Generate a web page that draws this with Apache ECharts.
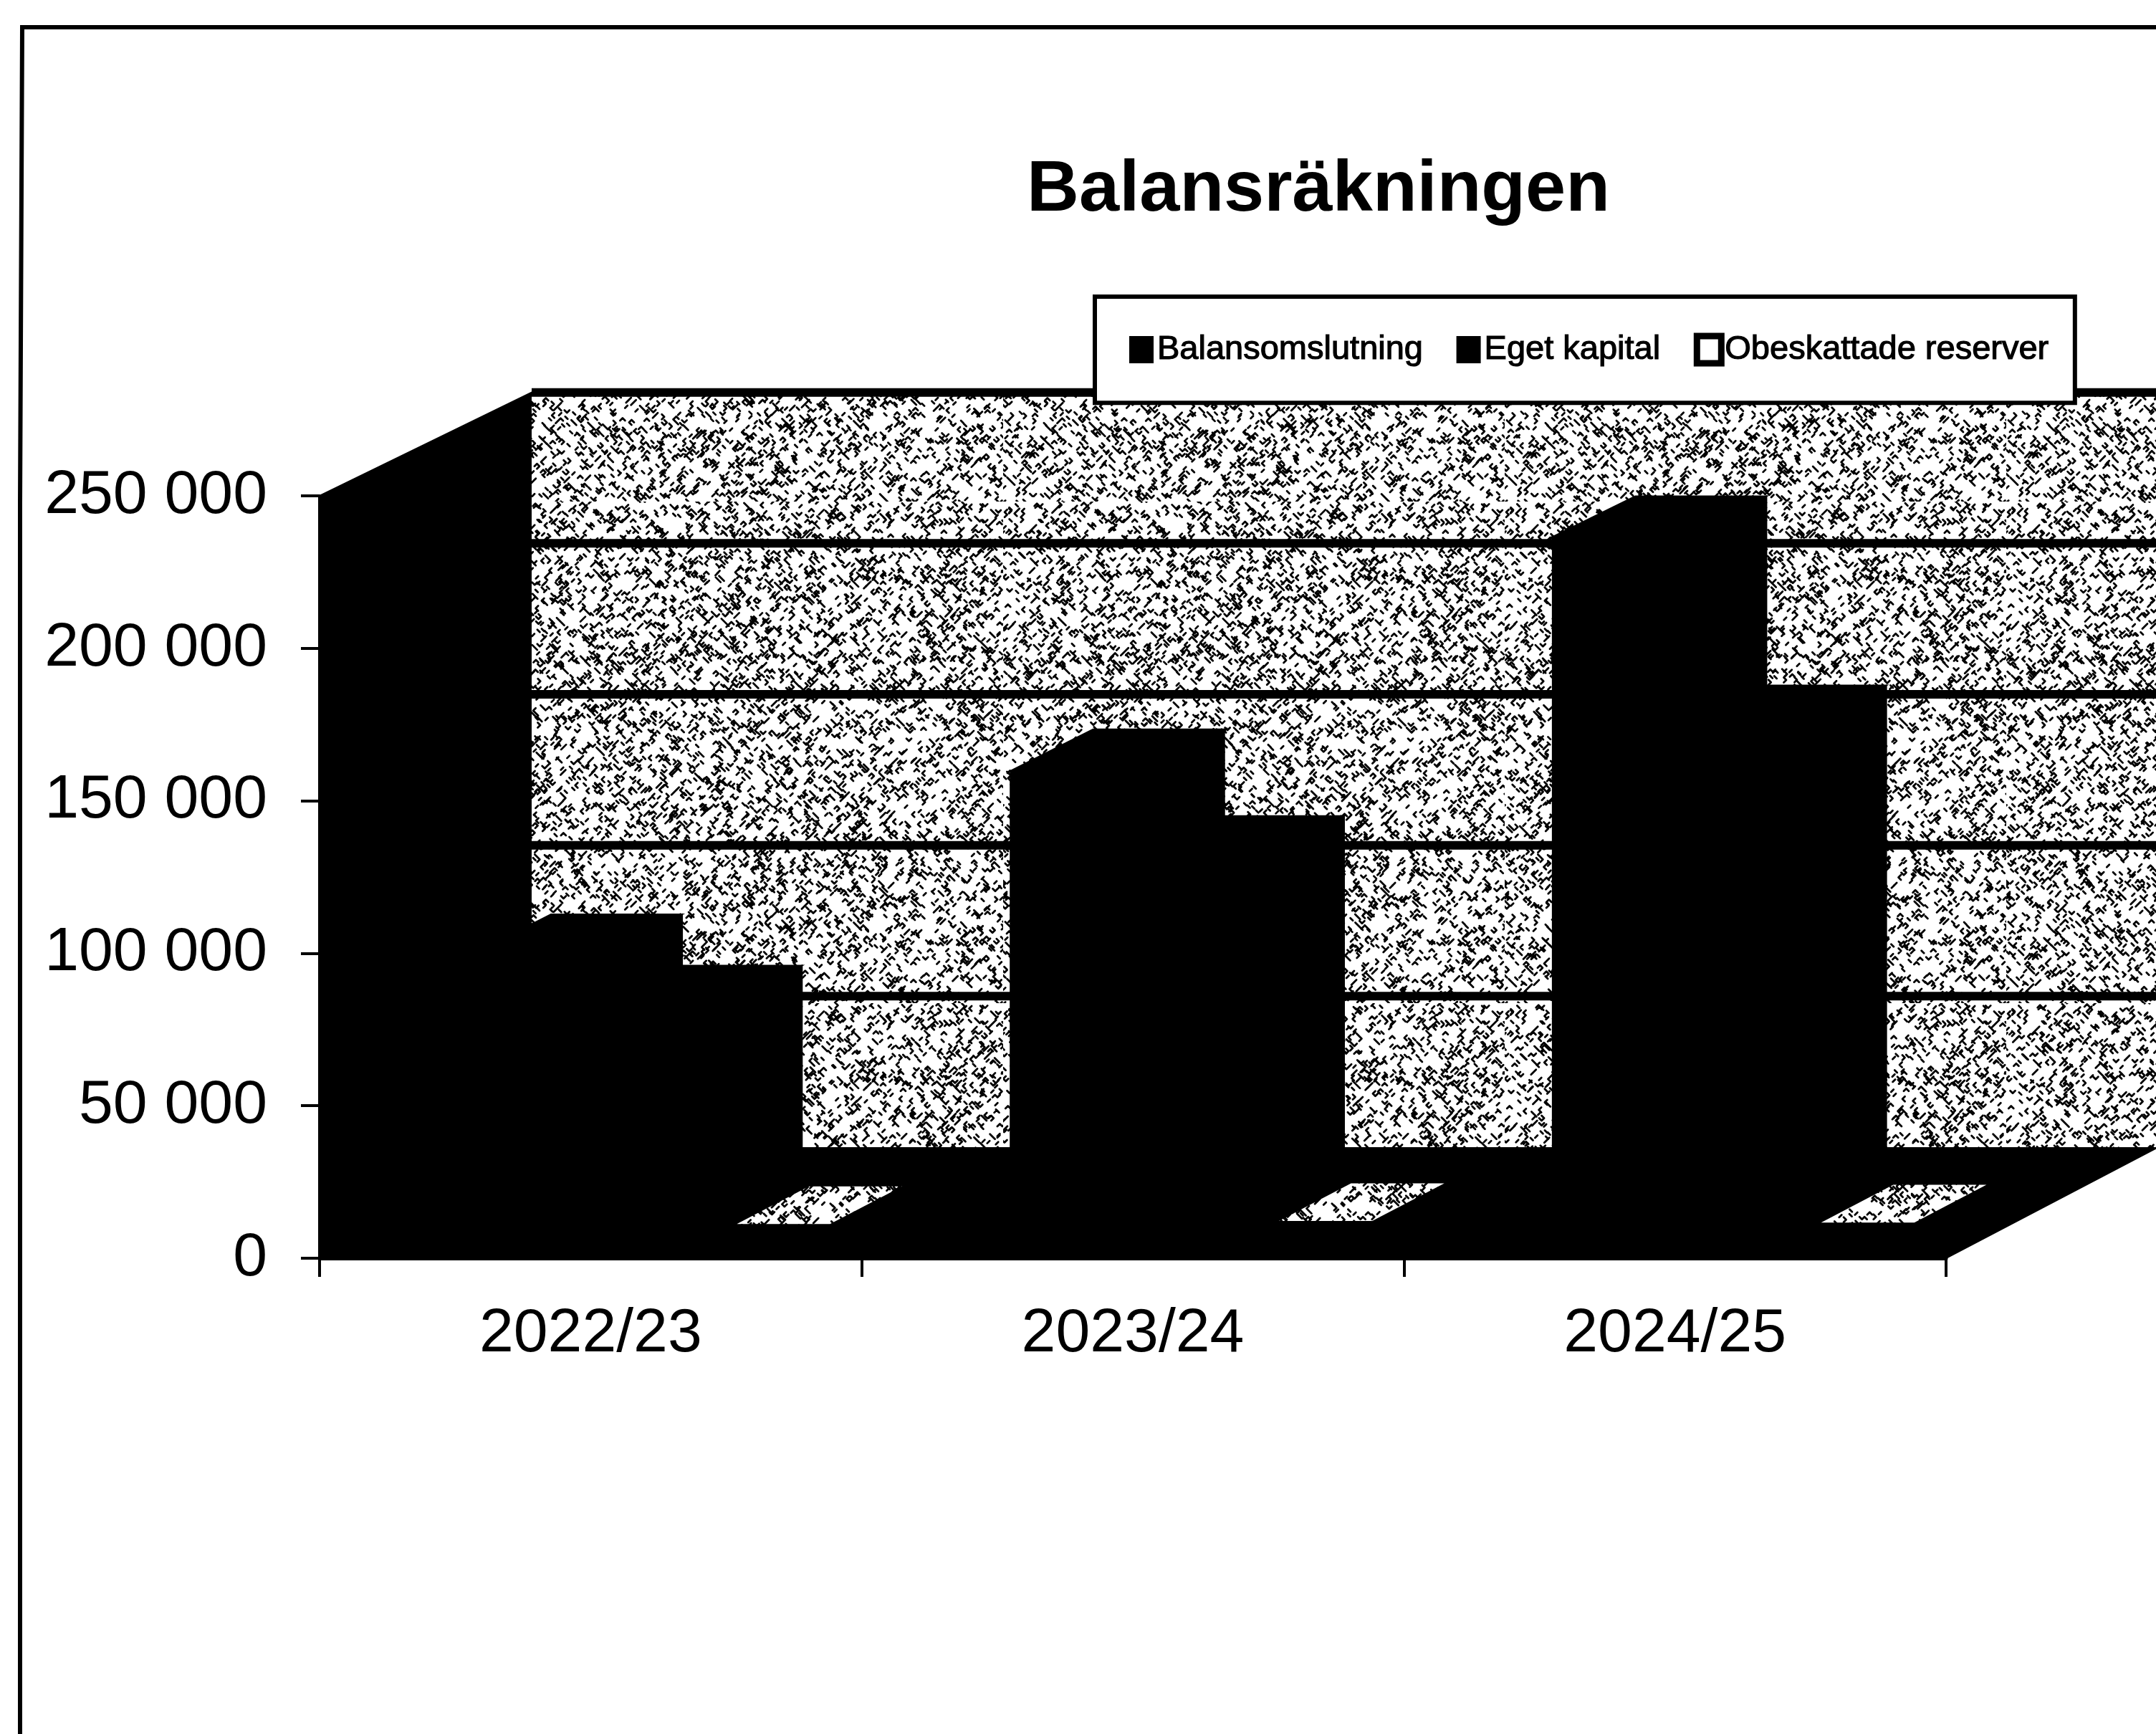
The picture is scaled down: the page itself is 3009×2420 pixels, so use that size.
<!DOCTYPE html>
<html>
<head>
<meta charset="utf-8">
<title>Balansräkningen</title>
<style>
    html,body{margin:0;padding:0;background:#fff;}
    #main{width:3009px;height:2420px;}
</style>
<script src="https://cdn.jsdelivr.net/npm/echarts@6/dist/echarts.min.js"></script>
</head>
<body>
<div id="main"></div>
<script type="text/javascript">
    var categories = ['2022/23', '2023/24', '2024/25'];
    var balansomslutning = [87900, 149000, 226000];
    var egetKapital = [71000, 120400, 163500];
    var obeskattadeReserver = [1000, 2000, 1500];
    var yTicks = [0, 50000, 100000, 150000, 200000, 250000];

    // oblique projection of the 3d box, heights shrink a little towards the back
    var wallDx = 296, wallDy = -155, wallShrink = 0.01;
    // left/right as a share of the category band, then front/back depth
    var barSlots = [
        [0.153, 0.395, 0.31, 0.70],
        [0.395, 0.616, 0.31, 0.70],
        [0.660, 0.832, 0.28, 0.62]
    ];

    // speckled fill of the back wall (fixed sequence, so the picture never changes)
    function speckle() {
        var size = 700, cell = 7, seed = 20221;
        var c = document.createElement('canvas');
        c.width = c.height = size;
        var ctx = c.getContext('2d');
        ctx.fillStyle = '#fff';
        ctx.fillRect(0, 0, size, size);
        ctx.strokeStyle = '#000';
        ctx.lineWidth = 2.8;
        ctx.lineCap = 'round';
        ctx.lineJoin = 'round';
        function next() {
            seed = (seed + 0x6D2B79F5) | 0;
            var t = Math.imul(seed ^ (seed >>> 15), 1 | seed);
            t = (t + Math.imul(t ^ (t >>> 7), 61 | t)) ^ t;
            return ((t ^ (t >>> 14)) >>> 0) / 4294967296;
        }
        for (var y = 0; y < size; y += cell) {
            for (var x = 0; x < size; x += cell) {
                if (next() > 0.5) continue;
                var px = x + next() * cell, py = y + next() * cell;
                var steps = 1 + Math.floor(next() * 3);
                ctx.beginPath();
                ctx.moveTo(px, py);
                for (var s = 0; s < steps; s++) {
                    px += (next() < 0.5 ? -1 : 1) * 3.5;
                    py += (next() < 0.5 ? -1 : 1) * 3.5;
                    ctx.lineTo(px, py);
                }
                ctx.stroke();
            }
        }
        return c;
    }
    var wallFill = {image: speckle(), repeat: 'repeat'};

    function poly(points, fill) {
        var solid = fill === '#000';
        return {
            type: 'polygon',
            shape: {points: points},
            style: {fill: fill, stroke: solid ? '#000' : null, lineWidth: solid ? 2 : 0},
            silent: true
        };
    }

    // screen position of (x, y) pushed back to a given depth (0 front, 1 back wall)
    function project(x, y, y0, depth) {
        return [x + wallDx * depth, y0 + wallDy * depth + (y - y0) * (1 - wallShrink * depth)];
    }

    function renderBox(params, api) {
        var cs = params.coordSys;
        var left = cs.x, right = cs.x + cs.width;
        var y0 = api.coord([0, 0])[1];
        var yTop = api.coord([0, 250000])[1];
        var children = [
            // left wall and floor
            poly([[left, yTop], project(left, yTop, y0, 1), project(left, y0, y0, 1), [left, y0]], '#000'),
            poly([[left, y0], project(left, y0, y0, 1), project(right, y0, y0, 1), [right, y0]], '#000'),
            poly([project(left, yTop, y0, 1), project(right, yTop, y0, 1), project(right, y0, y0, 1), project(left, y0, y0, 1)], wallFill)
        ];
        yTicks.forEach(function (t) {
            if (t === 0) return;
            var a = project(left, api.coord([0, t])[1], y0, 1);
            var b = project(right, api.coord([0, t])[1], y0, 1);
            children.push({
                type: 'line',
                shape: {x1: a[0], y1: a[1], x2: b[0], y2: b[1]},
                style: {stroke: '#000', lineWidth: 12},
                silent: true
            });
        });
        return {type: 'group', children: children};
    }

    function barRenderer(seriesIndex, topFill) {
        return function (params, api) {
            var i = api.value(0), v = api.value(1);
            var slot = barSlots[seriesIndex];
            var band = api.size([1, 0])[0];
            var start = api.coord([i, 0])[0] - band / 2;
            var a = start + band * slot[0];
            var b = start + band * slot[1];
            var y0 = api.coord([i, 0])[1];
            var top = api.coord([i, v])[1];
            var df = slot[2], db = slot[3];
            return {
                type: 'group',
                children: [
                    poly([project(a, top, y0, df), project(b, top, y0, df), project(b, y0, y0, df), project(a, y0, y0, df)], '#000'),
                    poly([project(b, top, y0, df), project(b, top, y0, db), project(b, y0, y0, db), project(b, y0, y0, df)], '#000'),
                    poly([project(a, top, y0, df), project(a, top, y0, db), project(b, top, y0, db), project(b, top, y0, df)], topFill)
                ]
            };
        };
    }

    function rows(values) {
        return values.map(function (v, i) { return [i, v]; });
    }

    var myChart = echarts.init(document.getElementById('main'), null, {renderer: 'canvas'});
    var font = '"Liberation Sans", Arial, sans-serif';
    myChart.setOption({
        animation: false,
        backgroundColor: '#fff',
        title: {
            text: 'Balansräkningen',
            left: 1835,
            top: 211,
            textAlign: 'center',
            textStyle: {fontFamily: font, fontSize: 101, fontWeight: 'bold', color: '#000'}
        },
        legend: {
            left: 1528,
            top: 414,
            padding: [50, 36, 50, 48],
            backgroundColor: '#fff',
            borderColor: '#000',
            borderWidth: 6,
            borderRadius: 0,
            itemWidth: 34,
            itemHeight: 38,
            itemGap: 46,
            selectedMode: false,
            textStyle: {fontFamily: font, fontSize: 47, color: '#000', textBorderColor: '#000', textBorderWidth: 1.2},
            data: [
                {name: 'Balansomslutning', icon: 'rect', itemStyle: {color: '#000'}},
                {name: 'Eget kapital', icon: 'rect', itemStyle: {color: '#000'}},
                {name: 'Obeskattade reserver', icon: 'rect', itemStyle: {color: '#fff', borderColor: '#000', borderWidth: 9}}
            ]
        },
        grid: {left: 446, right: 293, top: 692, bottom: 664},
        xAxis: {
            type: 'category',
            data: categories,
            axisLine: {lineStyle: {color: '#000', width: 5}},
            axisTick: {show: true, length: 26, lineStyle: {color: '#000', width: 4}},
            axisLabel: {color: '#000', fontFamily: font, fontSize: 86, margin: 63}
        },
        yAxis: {
            type: 'value',
            min: 0,
            max: 250000,
            interval: 50000,
            splitLine: {show: false},
            axisLine: {show: true, lineStyle: {color: '#000', width: 4}},
            axisTick: {show: true, length: 26, lineStyle: {color: '#000', width: 4}},
            axisLabel: {
                color: '#000',
                fontFamily: font,
                fontSize: 86,
                margin: 73,
                formatter: function (v) {
                    return String(v).replace(/\B(?=(\d{3})+$)/g, ' ');
                }
            }
        },
        series: [
            {type: 'custom', name: 'box', renderItem: renderBox, data: [[0, 0]], z: 1, silent: true},
            {type: 'custom', name: 'Balansomslutning', renderItem: barRenderer(0, '#000'), data: rows(balansomslutning), encode: {x: 0, y: 1}, itemStyle: {color: '#000'}, z: 2},
            {type: 'custom', name: 'Eget kapital', renderItem: barRenderer(1, '#000'), data: rows(egetKapital), encode: {x: 0, y: 1}, itemStyle: {color: '#000'}, z: 3},
            {type: 'custom', name: 'Obeskattade reserver', renderItem: barRenderer(2, wallFill), data: rows(obeskattadeReserver), encode: {x: 0, y: 1}, itemStyle: {color: '#fff'}, z: 4}
        ],
        graphic: [{
            type: 'polyline',
            shape: {points: [[28, 2420], [28, 700], [31, 38], [3009, 38]]},
            style: {stroke: '#000', fill: null, lineWidth: 6},
            silent: true
        }]
    });
</script>
</body>
</html>
